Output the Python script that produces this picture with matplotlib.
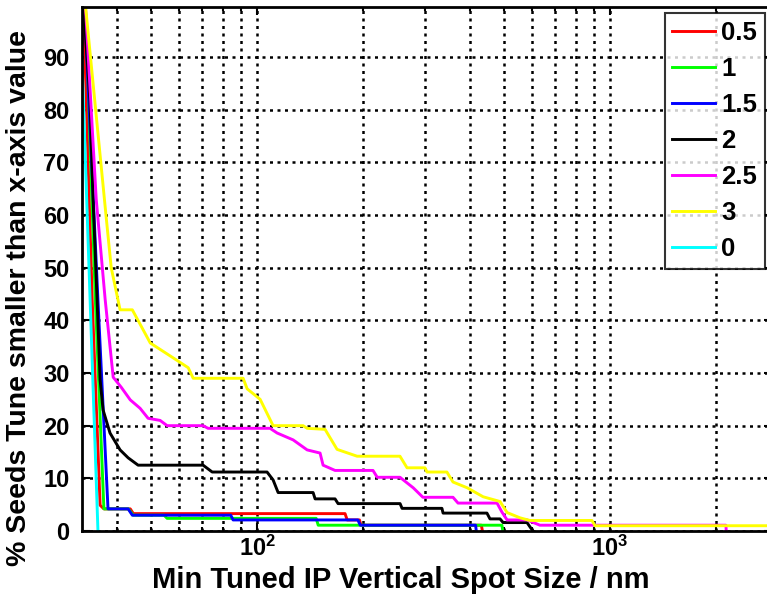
import matplotlib
matplotlib.use("Agg")
import matplotlib.pyplot as plt

plt.rcParams['font.family'] = ['Liberation Sans', 'DejaVu Sans']
plt.rcParams['mathtext.default'] = 'regular'

# series data (x in nm, y in %)
x_05 = [32.2, 34.1, 35.9, 36.8, 43.7, 44.6, 177.5, 180, 195, 197, 432, 435]
y_05 = [100, 43.8, 4.9, 4.2, 4.2, 3.3, 3.3, 2.1, 2.1, 1.1, 1.1, 0]

x_1 = [32.6, 34.8, 36.8, 43.2, 44.6, 54.5, 55.6, 147, 149, 494, 497]
y_1 = [100, 43.8, 4.2, 4.2, 3.0, 3.0, 2.4, 2.4, 1.1, 1.1, 0]

x_15 = [32.4, 35.4, 37.8, 43.1, 44.3, 84.2, 85.5, 193, 196, 416, 418]
y_15 = [100, 43.8, 4.2, 4.2, 3.0, 3.0, 2.1, 2.1, 1.1, 1.1, 0]

x_2 = [32.2, 33.6, 34.3, 35.2, 35.9, 36.6, 38.3, 40.9, 43.1, 46.0, 70.3, 74.6,
       106.7, 111, 114.7, 144.1, 146, 166.3, 169.6, 254.2, 257.5, 334, 336.5,
       448, 457, 488, 498, 582, 593, 605]
y_2 = [100, 81.8, 62.8, 43.8, 28.7, 23, 18.6, 15.4, 13.9, 12.5, 12.5, 11.2,
       11.2, 9.7, 7.3, 7.3, 6.1, 6.1, 5.2, 5.2, 4.3, 4.3, 3.4,
       3.4, 2.3, 2.3, 1.6, 1.6, 0.8, 0]

x_25 = [32.6, 35.0, 37.1, 39.1, 41.2, 43.7, 46.6, 49.1, 53.1, 55.6, 70.3, 72.6,
        108.8, 114, 126.5, 138.6, 150.8, 153.8, 166.3, 213, 219, 254, 277, 295,
        359, 371, 478.6, 494, 511, 582, 633, 2131, 2135]
y_25 = [100, 63, 44, 29.2, 27.3, 24.9, 23.3, 21.4, 21, 20, 20, 19.5,
        19.5, 18.6, 17.3, 15.4, 14.8, 12.5, 11.5, 11.5, 10.2, 10.2, 8.2, 6.4,
        6.4, 5.3, 5.3, 3.6, 2.1, 2.1, 1.1, 1.1, 0]

x_3 = [32.6, 37.3, 38.6, 40.9, 44.3, 49.8, 59.3, 63.8, 65.9, 91.3, 93.7, 102,
       111, 135, 138.6, 155.8, 168.5, 192, 254, 266, 299, 303, 345, 359, 394,
       437, 488, 511, 556, 593, 889, 907, 2900]
y_3 = [100, 60, 50, 42, 42, 35.7, 32.4, 31, 29, 29, 27, 25,
       20, 20, 19.5, 19.3, 15.5, 14.2, 14.2, 12, 12, 11.2, 11.2, 9.3, 8.2,
       6.5, 5.6, 3.5, 2.5, 2, 2, 1, 1]

x_0 = [31.5, 35.4]
y_0 = [100, 0]

labels = ['0.5', '1', '1.5', '2', '2.5', '3', '0']
colors = ['#ff0000', '#00ff00', '#0000ff', '#000000', '#ff00ff', '#ffff00', '#00ffff']
xs = [x_05, x_1, x_15, x_2, x_25, x_3, x_0]
ys = [y_05, y_1, y_15, y_2, y_25, y_3, y_0]

fig = plt.figure(figsize=(7.67, 6.11), dpi=100)
ax = fig.add_axes([82/767, 80/611, (772-82)/767, 524/611])

for x, y, c, lab in zip(xs, ys, colors, labels):
    ax.plot(x, y, color=c, linewidth=2.1, label=lab)

ax.set_xscale('log')
ax.set_xlim(31.9, 2878)
ax.set_ylim(0, 99.5)
ax.set_yticks(range(0, 100, 10))

ax.grid(which='both', color='k', linestyle=(0, (1.2, 1.8)), linewidth=1.8)
ax.tick_params(which='both', direction='in', top=True, right=True,
               labelsize=17, width=1.5)
ax.tick_params(which='major', length=6)
ax.tick_params(which='minor', length=3)
ax.tick_params(axis='y', pad=9)
for lbl in ax.get_xticklabels() + ax.get_yticklabels():
    lbl.set_fontweight('bold')
for s in ax.spines.values():
    s.set_linewidth(2)

ax.set_xlabel('Min Tuned IP Vertical Spot Size / nm', fontsize=21, fontweight='bold')
ax.set_ylabel('% Seeds Tune smaller than x-axis value', fontsize=20.5, fontweight='bold')
ax.yaxis.set_label_coords(-0.072, 0.445)
ax.xaxis.set_label_coords(0.462, -0.066)

leg = ax.legend(loc='upper right', bbox_to_anchor=(765/767, 1 - 13/611),
                bbox_transform=fig.transFigure, fontsize=18.5, frameon=True,
                fancybox=False, edgecolor='k', handlelength=1.65,
                labelspacing=0.47, handletextpad=0.25, borderaxespad=0,
                borderpad=0.3)
leg.get_frame().set_linewidth(1.5)
for t in leg.get_texts():
    t.set_fontweight('bold')

fig.savefig('out.png', dpi=100)
